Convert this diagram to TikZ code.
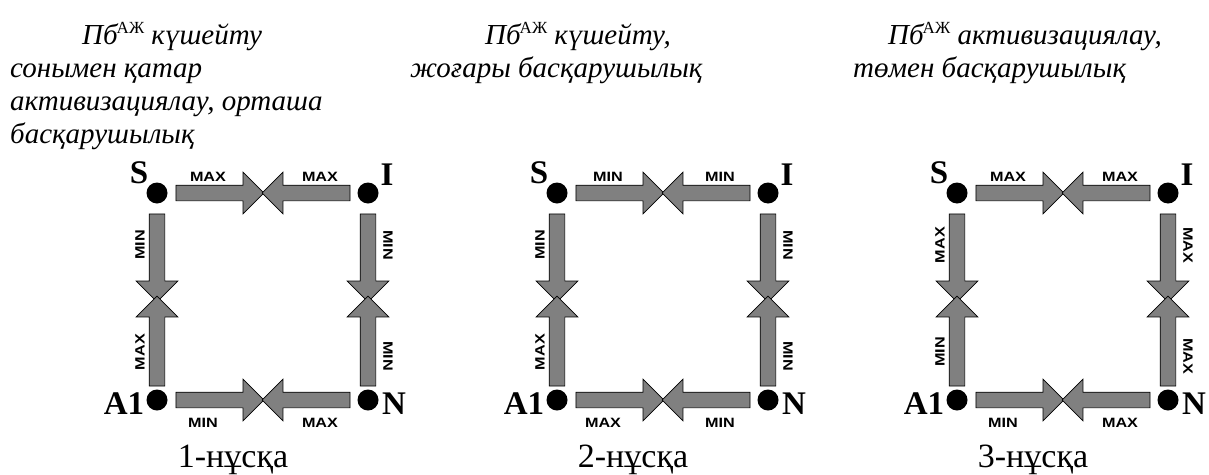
\documentclass[tikz,border=0pt]{standalone}
\usepackage{fontspec}
\usepackage{graphicx}
\setmainfont{Liberation Serif}
\newfontfamily\tagfont{Liberation Sans}
\usetikzlibrary{shapes.arrows,calc}

\definecolor{arrowgray}{RGB}{128,128,128}

\tikzset{
  blockarrow/.style={single arrow, draw=black, line width=0.7pt, fill=arrowgray,
    inner sep=7.5pt, single arrow head extend=13pt,
    single arrow tip angle=90, minimum height=88pt},
  dot/.style={circle, fill=black, inner sep=0pt, minimum size=21pt},
  vertex/.style={font=\bfseries\fontsize{33}{33}\selectfont, inner sep=0pt},
  tag/.style={font=\tagfont\bfseries\fontsize{13.5}{13.5}\selectfont, inner sep=0pt},
  note/.style={font=\itshape\fontsize{29}{33}\selectfont, anchor=base west, inner sep=0pt},
  caption/.style={font=\fontsize{34}{34}\selectfont, anchor=base, inner sep=0pt},
}

% stretched bold sans label
\newcommand\wide[1]{\scalebox{1.2}[1]{#1}}
% superscript after "Пб"
\newcommand\sAZh{\kern-1pt\raisebox{11pt}{\upshape\fontsize{17}{17}\selectfont АЖ}}

% one variant: #1 x-shift, then the tags of the eight arrows:
% top-left, top-right, left-down, left-up, right-down, right-up, bottom-left, bottom-right
\newcommand\variant[9]{%
  \begin{scope}[xshift=#1pt, name prefix=v#1-]
    \coordinate (S) at (157,193);
    \coordinate (I) at (368,193);
    \coordinate (A) at (157,400);
    \coordinate (N) at (368,400);
    % corner letters
    \node[vertex] (Sl) at (139,173) {S};
    \node[vertex] (Il) at (387,175) {I};
    \node[vertex] (Al) at (124,404) {A1};
    \node[vertex] (Nl) at (394,404) {N};
    % block arrows
    \node[blockarrow] (ta) at ($(S)+(59,0)$) {};
    \node[blockarrow, shape border rotate=180] (tb) at ($(I)+(-58,0)$) {};
    \node[blockarrow, shape border rotate=270] (la) at ($(S)+(0,61)$) {};
    \node[blockarrow, shape border rotate=90, minimum height=90pt] (lb) at ($(A)+(0,-55)$) {};
    \node[blockarrow, shape border rotate=270] (ra) at ($(I)+(0,61)$) {};
    \node[blockarrow, shape border rotate=90, minimum height=90pt] (rb) at ($(N)+(0,-55)$) {};
    \node[blockarrow] (ba) at ($(A)+(59,0)$) {};
    \node[blockarrow, shape border rotate=180] (bb) at ($(N)+(-58,0)$) {};
    % arrow tags
    \node[tag] (tat) at (208,177) {\wide{#2}};
    \node[tag] (tbt) at (320,177) {\wide{#3}};
    \node[tag, rotate=90] (lat) at (140,245) {\wide{#4}};
    \node[tag, rotate=90] (lbt) at (140,352) {\wide{#5}};
    \node[tag, rotate=-90] (rat) at (388,245) {\wide{#6}};
    \node[tag, rotate=-90] (rbt) at (388,356) {\wide{#7}};
    \node[tag] (bat) at (203,423) {\wide{#8}};
    \node[tag] (bbt) at (320,423) {\wide{#9}};
    % corner dots
    \node[dot] (Sd) at (S) {};
    \node[dot] (Id) at (I) {};
    \node[dot] (Ad) at (A) {};
    \node[dot] (Nd) at (N) {};
  \end{scope}}

\begin{document}
\begin{tikzpicture}[x=1pt, y=-1pt]
  \fill[white] (0,0) rectangle (1209,474);
  \useasboundingbox (0,0) rectangle (1209,474);

  % headings
  \node[note] (h1a) at (82,44) {Пб\sAZh{} күшейту};
  \node[note] (h1b) at (10,77) {сонымен қатар};
  \node[note] (h1c) at (10,110) {активизациялау, орташа};
  \node[note] (h1d) at (10,143) {басқарушылық};
  \node[note] (h2a) at (485,44) {Пб\sAZh{} күшейту,};
  \node[note] (h2b) at (410,77) {жоғары басқарушылық};
  \node[note] (h3a) at (888,44) {Пб\sAZh{} активизациялау,};
  \node[note] (h3b) at (853,77) {төмен басқарушылық};

  \variant{0}{MAX}{MAX}{MIN}{MAX}{MIN}{MIN}{MIN}{MAX}
  \variant{400}{MIN}{MIN}{MIN}{MAX}{MIN}{MIN}{MAX}{MIN}
  \variant{800}{MAX}{MAX}{MAX}{MIN}{MAX}{MAX}{MIN}{MAX}

  % captions
  \node[caption] (c1) at (233,467) {1-нұсқа};
  \node[caption] (c2) at (633,467) {2-нұсқа};
  \node[caption] (c3) at (1033,467) {3-нұсқа};
\end{tikzpicture}
\end{document}
